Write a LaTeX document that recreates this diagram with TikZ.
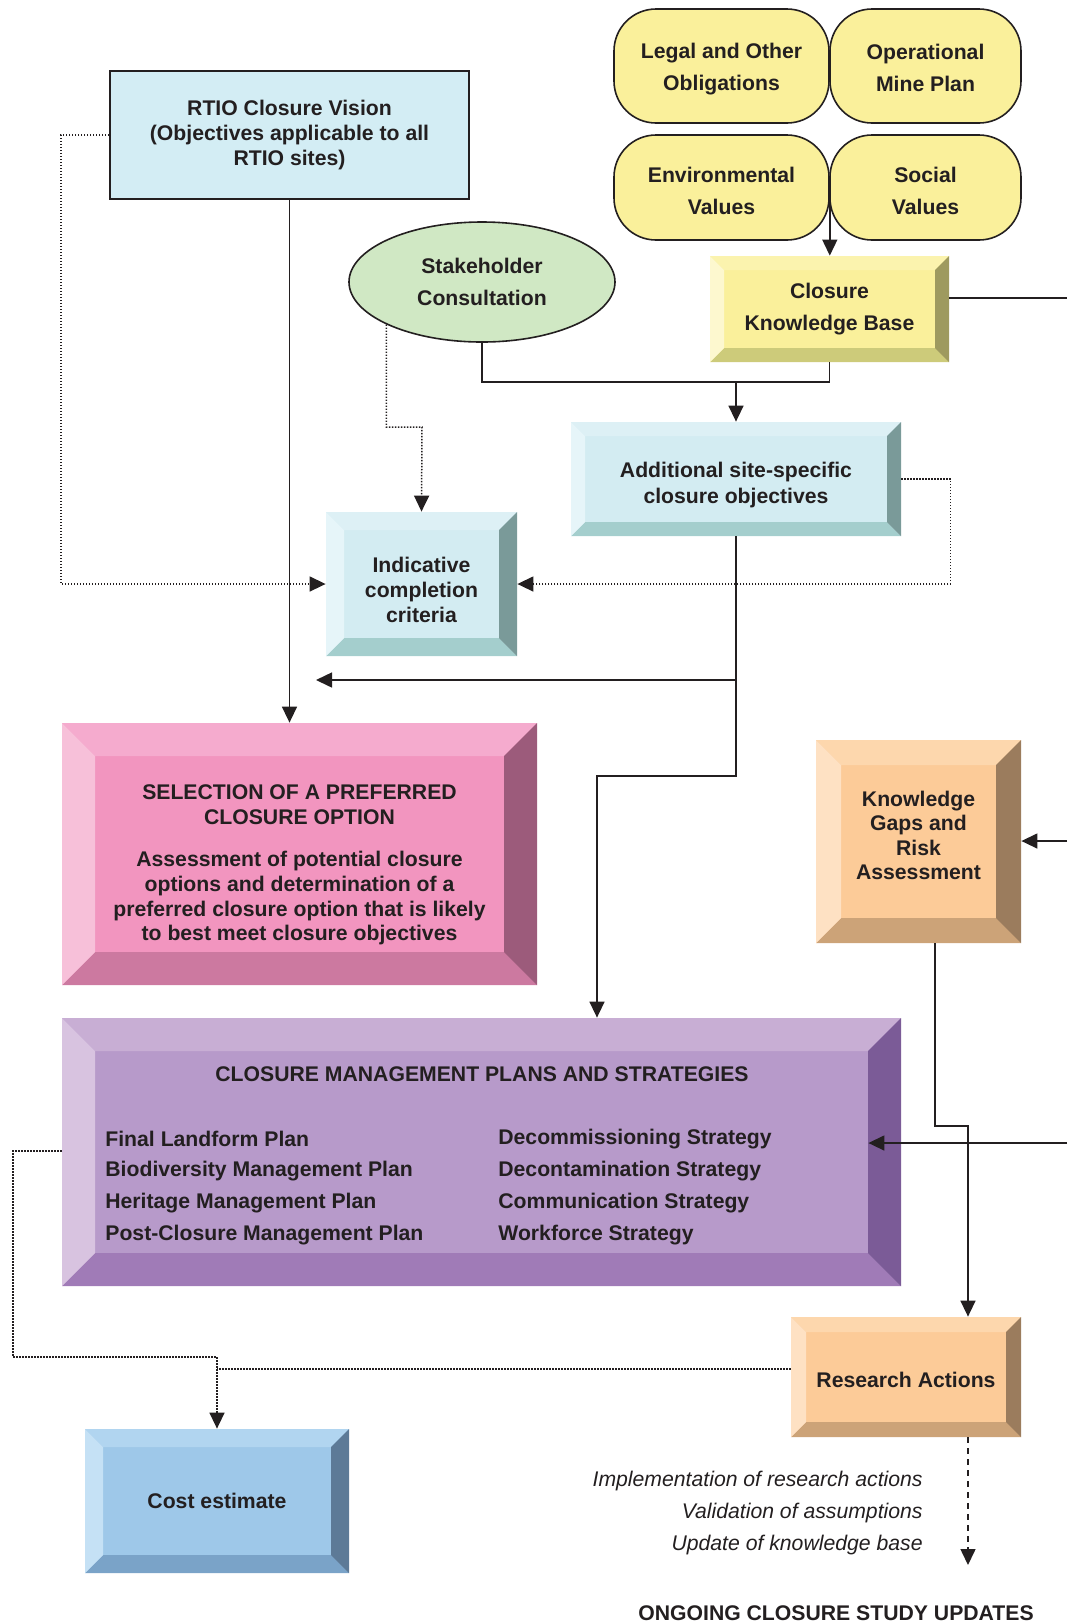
\documentclass[tikz,border=0pt]{standalone}
\usepackage{fontspec}
\setmainfont{Liberation Sans}
\usetikzlibrary{arrows.meta,shapes.geometric}

\definecolor{txt}{HTML}{231F20}
\definecolor{visionfill}{HTML}{D3EDF4}
\definecolor{yellowfill}{HTML}{FAF09B}
\definecolor{stakefill}{HTML}{D0E8C4}
% bevel colours: face, top, left, right, bottom
\definecolor{kbface}{HTML}{FAF09B}\definecolor{kbtop}{HTML}{FBF3AE}\definecolor{kbleft}{HTML}{FDF8CF}\definecolor{kbright}{HTML}{9E9A5F}\definecolor{kbbottom}{HTML}{CDCB7A}
\definecolor{cyface}{HTML}{D3ECF2}\definecolor{cytop}{HTML}{DDF0F5}\definecolor{cyleft}{HTML}{E6F5F9}\definecolor{cyright}{HTML}{7A9A99}\definecolor{cybottom}{HTML}{A4CECD}
\definecolor{pkface}{HTML}{F295BF}\definecolor{pktop}{HTML}{F5ABCE}\definecolor{pkleft}{HTML}{F7C0D9}\definecolor{pkright}{HTML}{9C5B7B}\definecolor{pkbottom}{HTML}{CC79A0}
\definecolor{orface}{HTML}{FCCB98}\definecolor{ortop}{HTML}{FDD7AD}\definecolor{orleft}{HTML}{FEE1C3}\definecolor{orright}{HTML}{9B7C5D}\definecolor{orbottom}{HTML}{CCA378}
\definecolor{puface}{HTML}{B79ACA}\definecolor{putop}{HTML}{C8AED4}\definecolor{puleft}{HTML}{D8C3E0}\definecolor{puright}{HTML}{7B5B97}\definecolor{pubottom}{HTML}{A07BB7}
\definecolor{blface}{HTML}{9EC8E9}\definecolor{bltop}{HTML}{B1D5F0}\definecolor{blleft}{HTML}{C5E1F5}\definecolor{blright}{HTML}{5D7A97}\definecolor{blbottom}{HTML}{7AA3C8}

\begin{document}
\begin{tikzpicture}[x=0.5pt, y=-0.5pt,
			every node/.style = {inner sep=0pt, align=center, text=txt,
				font=\fontsize{10.6}{12.3}\selectfont\bfseries}]
			\tikzset{arr/.style={-{Triangle[length=8pt,width=7.5pt]}, line width=0.75pt, draw=txt},
				ln/.style={line width=0.75pt, draw=txt},
				dots/.style={line width=0.65pt, draw=txt, dash pattern=on 0.65pt off 0.85pt},
				dashes/.style={line width=0.75pt, draw=txt, dash pattern=on 3pt off 2.5pt},
				plainbox/.style={draw=txt, line width=0.8pt, fill=visionfill},
				wide/.style={font=\fontsize{10.6}{16}\selectfont\bfseries},
				ybox/.style={draw=txt, line width=0.8pt, fill=yellowfill, rounded corners=21pt},
				bevelbox/.style 2 args={fill=#1face, path picture={
					\fill[#1top] (path picture bounding box.north west) -- (path picture bounding box.north east)
						-- ([shift={(-#2,-#2)}]path picture bounding box.north east) -- ([shift={(#2,-#2)}]path picture bounding box.north west) -- cycle;
					\fill[#1bottom] (path picture bounding box.south west) -- (path picture bounding box.south east)
						-- ([shift={(-#2,#2)}]path picture bounding box.south east) -- ([shift={(#2,#2)}]path picture bounding box.south west) -- cycle;
					\fill[#1left] (path picture bounding box.north west) -- ([shift={(#2,-#2)}]path picture bounding box.north west)
						-- ([shift={(#2,#2)}]path picture bounding box.south west) -- (path picture bounding box.south west) -- cycle;
					\fill[#1right] (path picture bounding box.north east) -- ([shift={(-#2,-#2)}]path picture bounding box.north east)
						-- ([shift={(-#2,#2)}]path picture bounding box.south east) -- (path picture bounding box.south east) -- cycle;
				}}}
			\useasboundingbox (0,0) rectangle (1067,1624);

			\node[plainbox, minimum width=179.5pt, minimum height=64pt] (vision) at (289.5,135) {RTIO Closure Vision\\(Objectives applicable to all\\RTIO sites)};
			\node[ybox, minimum width=107.5pt, minimum height=57pt] (legal) at (721.5,66) {};
			\node[wide] (legaltxt) at (721.5,69) {Legal and Other\\Obligations};
			\node[ybox, minimum width=95.5pt, minimum height=57pt] (opplan) at (925.5,66) {};
			\node[wide] (opplantxt) at (925.5,68) {Operational\\Mine Plan};
			\node[ybox, minimum width=107.5pt, minimum height=52.5pt] (envval) at (721.5,187.5) {};
			\node[wide] (envvaltxt) at (721.5,191) {Environmental\\Values};
			\node[ybox, minimum width=95.5pt, minimum height=52.5pt] (socval) at (925.5,187.5) {};
			\node[wide] (socvaltxt) at (925.5,191) {Social\\Values};
			\node[bevelbox={kb}{7pt}, wide, minimum width=119.5pt, minimum height=53pt] (kbase) at (829.5,309) {Closure\\Knowledge Base};
			\node[ellipse, draw=txt, line width=0.8pt, fill=stakefill, wide, minimum width=133pt, minimum height=60pt] (stake) at (482,282) {Stakeholder\\Consultation};
			\node[bevelbox={cy}{7pt}, minimum width=165pt, minimum height=57pt] (addobj) at (736,479) {};
			\node[font=\fontsize{10.6}{13}\selectfont\bfseries] (addtxt) at (736,485) {Additional site-specific\\closure objectives};
			\node[bevelbox={cy}{9pt}, minimum width=95.5pt, minimum height=72pt] (indic) at (421.5,584) {};
			\node (indictxt) at (421.5,590) {Indicative\\completion\\criteria};
			\node[bevelbox={pk}{16.5pt}, minimum width=237.5pt, minimum height=131pt] (select) at (299.5,854) {};
			\node (selecttxt) at (299.5,865) {SELECTION OF A PREFERRED\\CLOSURE OPTION\\[9pt]Assessment of potential closure\\options and determination of a\\preferred closure option that is likely\\to best meet closure objectives};
			\node[bevelbox={or}{12.5pt}, minimum width=102.5pt, minimum height=101.5pt] (kgap) at (918.5,841.5) {};
			\node (kgaptxt) at (918.5,835.5) {Knowledge\\Gaps and\\Risk\\Assessment};
			\node[bevelbox={pu}{16.5pt}, minimum width=419.5pt, minimum height=134pt] (cmp) at (481.5,1152) {};
			\node (cmptitle) at (482,1074) {CLOSURE MANAGEMENT PLANS AND STRATEGIES};
			\node[anchor=west] (plana) at (105,1139) {Final Landform Plan};
			\node[anchor=west] (planb) at (105,1171) {Biodiversity Management Plan};
			\node[anchor=west] (planc) at (105,1203) {Heritage Management Plan};
			\node[anchor=west] (pland) at (105,1235) {Post-Closure Management Plan};
			\node[anchor=west] (strata) at (498,1139) {Decommissioning Strategy};
			\node[anchor=west] (stratb) at (498,1171) {Decontamination Strategy};
			\node[anchor=west] (stratc) at (498,1203) {Communication Strategy};
			\node[anchor=west] (stratd) at (498,1235) {Workforce Strategy};
			\node[bevelbox={or}{7.5pt}, minimum width=115pt, minimum height=60pt] (resact) at (906,1377) {};
			\node (resacttxt) at (906,1380) {Research Actions};
			\node[bevelbox={bl}{9pt}, minimum width=132pt, minimum height=72pt] (cost) at (217,1501) {Cost estimate};
			\node[anchor=east, align=right, font=\fontsize{10.6}{16}\selectfont\itshape] (notes) at (923,1513) {Implementation of research actions\\Validation of assumptions\\Update of knowledge base};
			\node (ongoing) at (836,1613) {ONGOING CLOSURE STUDY UPDATES};

			\coordinate (kbout) at (1067,298);
			\coordinate (merge) at (736,382);
			\coordinate (stakebend) at (422,427);
			\coordinate (branch) at (316,680);
			\coordinate (cmpdrop) at (597,776);
			\coordinate (kgin) at (1067,841);
			\coordinate (kgdrop) at (935,1126);
			\coordinate (kgturn) at (968,1126);
			\coordinate (cmpin) at (1067,1143);
			\coordinate (costbend) at (217,1357);
			\coordinate (updates) at (968,1565);

			\draw[arr] (envval.east) -- (envval.east |- kbase.north);
			\draw[ln] (kbout -| kbase.east) -- (kbout);
			\draw[ln] (stake.south) |- (merge) -| (kbase.south);
			\draw[arr] (merge) -- (addobj.north);
			\draw[dots,arr] (stake.204) |- (stakebend) -- (indic.north);
			\draw[dots,arr] (vision.west) -- ++(-48,0) |- (indic.west);
			\draw[dots,arr] (addobj.east) -- ++(49,0) |- (indic.east);
			\draw[arr] (vision.south) -- (vision.south |- select.north);
			\draw[arr] (addobj.south) |- (cmpdrop) -- (cmpdrop |- cmp.north);
			\draw[arr] (addobj.south |- branch) -- (branch);
			\draw[arr] (kgin) -- (kgin -| kgap.east);
			\draw[arr] (kgdrop |- kgap.south) -- (kgdrop) -- (kgturn) -- (kgturn |- resact.north);
			\draw[arr] (cmpin) -- ([xshift=-16.5pt]cmpin -| cmp.east);
			\draw[dots,arr] (cmp.west |- 0,1151) -| (13,1357) -- (costbend) -- (cost.north);
			\draw[dots] (resact.west |- 0,1369) -- (costbend |- 0,1369);
			\draw[dashes,arr] (updates |- resact.south) -- (updates);
		\end{tikzpicture}
\end{document}
